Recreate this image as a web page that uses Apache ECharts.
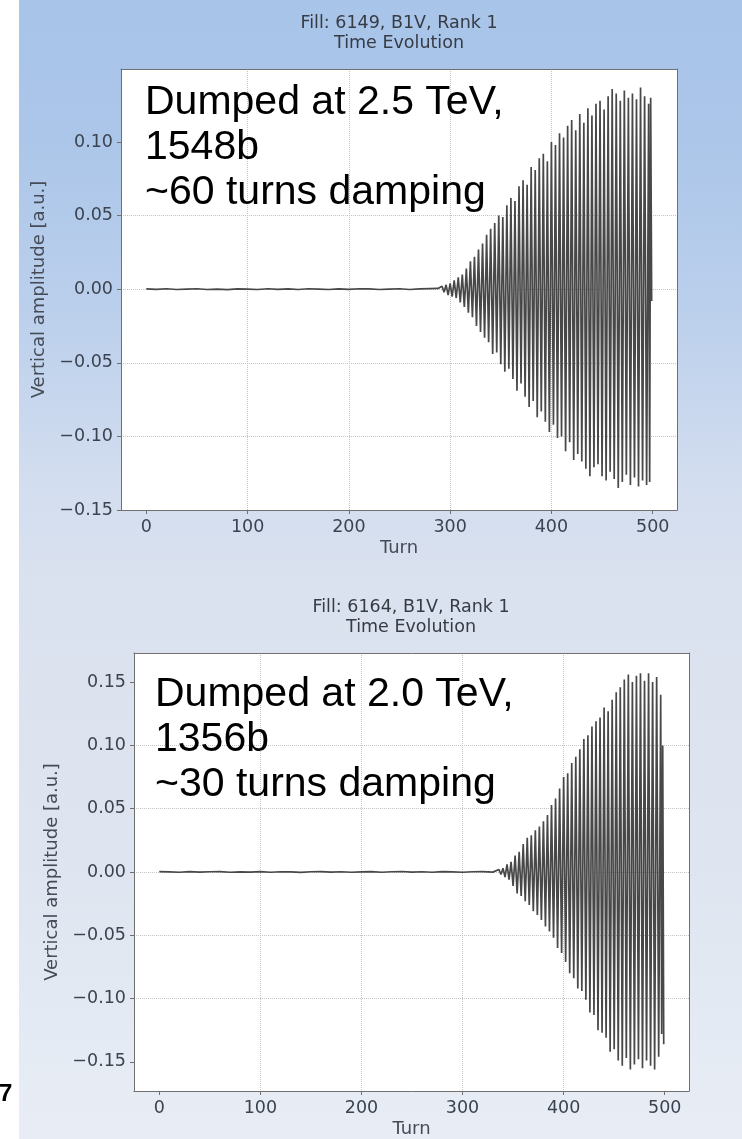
<!DOCTYPE html>
<html><head><meta charset="utf-8">
<script src="https://cdn.jsdelivr.net/npm/echarts@6/dist/echarts.min.js"></script>
<style>html,body{margin:0;padding:0;background:#fff}#c{width:742px;height:1139px}</style>
</head><body><div id="c"></div>
<script>
// ---------- data ----------
const xTicks = [0, 100, 200, 300, 400, 500];
const yTicks1 = [-0.15, -0.10, -0.05, 0, 0.05, 0.10];
const yTicks2 = [-0.15, -0.10, -0.05, 0, 0.05, 0.10, 0.15];

const titles = ['Fill: 6149, B1V, Rank 1\nTime Evolution', 'Fill: 6164, B1V, Rank 1\nTime Evolution'];
const notes = ['Dumped at 2.5 TeV,\n1548b\n~60 turns damping', 'Dumped at 2.0 TeV,\n1356b\n~30 turns damping'];

// Fill 6149: quiet part
const baseTurns1 = [0,10,20,30,40,50,60,70,80,90,100,110,120,130,140,150,160,170,180,190,200,210,220,230,240,250,260,270,280,288];
const baseAmp1 = [0.0002,-0.0001,0.0003,-0.0002,0.0001,0.0003,-0.0002,0.0001,-0.0003,0.0002,0.0001,-0.0002,0.0003,-0.0001,0.0002,-0.0002,0.0003,0.0001,-0.0002,0.0002,-0.0001,0.0003,0.0002,-0.0002,0.0001,0.0003,-0.0002,0.0002,0.0004,0.0005];
// Fill 6149: instability (spike tips)
const burstTurns1 = [292,294,296,298,300,302,304,306,308,310,312,314,316,318,320,322,324,326,328,330,332,334,336,338,340,342,344,346,348,350,352,354,356,358,360,362,364,366,368,370,372,374,376,378,380,382,384,386,388,390,392,394,396,398,400,402,404,406,408,410,412,414,416,418,420,422,424,426,428,430,432,434,436,438,440,442,444,446,448,450,452,454,456,458,460,462,464,466,468,470,472,474,476,478,480,482,484,486,488,490,492,494,496,497,498,499];
const burstAmp1 = [0.002,-0.002,0.003,-0.004,0.004,-0.005,0.006,-0.006,0.008,-0.009,0.010,-0.012,0.014,-0.016,0.019,-0.019,0.022,-0.025,0.027,-0.029,0.031,-0.033,0.037,-0.036,0.041,-0.044,0.045,-0.043,0.050,-0.051,0.049,-0.056,0.057,-0.054,0.062,-0.061,0.060,-0.069,0.070,-0.064,0.074,-0.073,0.071,-0.080,0.083,-0.076,0.081,-0.087,0.089,-0.083,0.092,-0.090,0.087,-0.097,0.100,-0.092,0.098,-0.101,0.106,-0.100,0.103,-0.110,0.111,-0.104,0.115,-0.116,0.108,-0.112,0.119,-0.117,0.113,-0.122,0.123,-0.127,0.118,-0.121,0.126,-0.119,0.128,-0.127,0.122,-0.130,0.131,-0.124,0.136,-0.129,0.133,-0.135,0.128,-0.131,0.135,-0.126,0.130,-0.133,0.133,-0.128,0.129,-0.134,0.137,-0.130,0.131,-0.133,0.126,-0.131,0.130,-0.008];

// Fill 6164: quiet part
const baseTurns2 = [0,10,20,30,40,50,60,70,80,90,100,110,120,130,140,150,160,170,180,190,200,210,220,230,240,250,260,270,280,290,300,310,320,330];
const baseAmp2 = [0.0003,0.0001,-0.0002,0.0003,-0.0001,0.0002,0.0003,-0.0002,0.0001,-0.0001,0.0003,-0.0002,0.0002,0.0001,-0.0003,0.0002,0.0003,-0.0001,0.0002,-0.0002,0.0001,0.0003,-0.0002,0.0002,0.0004,-0.0001,0.0002,-0.0002,0.0003,0.0001,-0.0002,0.0002,0.0003,-0.0001];
// Fill 6164: instability (spike tips)
const burstTurns2 = [336,338,340,342,344,346,348,350,352,354,356,358,360,362,364,366,368,370,372,374,376,378,380,382,384,386,388,390,392,394,396,398,400,402,404,406,408,410,412,414,416,418,420,422,424,426,428,430,432,434,436,438,440,442,444,446,448,450,452,454,456,458,460,462,464,466,468,470,472,474,476,478,480,482,484,486,488,490,492,494,496,497,498,499];
const burstAmp2 = [0.002,-0.002,0.003,-0.004,0.006,-0.006,0.008,-0.011,0.013,-0.017,0.016,-0.019,0.022,-0.023,0.027,-0.026,0.029,-0.031,0.033,-0.034,0.036,-0.038,0.040,-0.043,0.045,-0.047,0.053,-0.052,0.058,-0.060,0.066,-0.064,0.075,-0.071,0.078,-0.080,0.086,-0.084,0.091,-0.092,0.097,-0.094,0.105,-0.101,0.108,-0.111,0.115,-0.113,0.119,-0.125,0.122,-0.127,0.130,-0.131,0.127,-0.142,0.136,-0.140,0.142,-0.149,0.146,-0.153,0.152,-0.147,0.156,-0.156,0.150,-0.152,0.155,-0.148,0.157,-0.155,0.151,-0.149,0.157,-0.153,0.150,-0.156,0.154,-0.146,0.140,-0.128,0.100,-0.136];

// ---------- build ----------
function pairs(t, v) { return t.map((x, i) => [x, v[i]]); }
const data1 = pairs(baseTurns1, baseAmp1).concat(pairs(burstTurns1, burstAmp1));
const data2 = pairs(baseTurns2, baseAmp2).concat(pairs(burstTurns2, burstAmp2));

const tickColor = '#3c4350';
const frameColor = '#707070';
const fmtY = v => (v < 0 ? '\u2212' : '') + Math.abs(v).toFixed(2);

function xAxes(g) {
  return [{
    gridIndex: g, type: 'value', min: -25, max: 524, position: 'bottom',
    name: 'Turn', nameLocation: 'middle', nameGap: 29,
    nameTextStyle: { fontFamily: 'DejaVu Sans', fontSize: 18, color: '#454c58' },
    axisLine: { show: true, onZero: false, lineStyle: { color: frameColor, width: 1 } },
    axisTick: { show: true, customValues: xTicks, length: 4, lineStyle: { color: frameColor } },
    axisLabel: { customValues: xTicks, margin: 8, fontFamily: 'DejaVu Sans', fontSize: 17.5, color: tickColor },
    splitLine: { show: true, showMinLine: false, showMaxLine: false, lineStyle: { type: 'dotted', color: '#c4c4c4', width: 1 } }
  }, {
    gridIndex: g, type: 'value', min: -25, max: 524, position: 'top',
    axisLine: { show: true, onZero: false, lineStyle: { color: frameColor, width: 1 } },
    axisTick: { show: false }, axisLabel: { show: false }, splitLine: { show: false }
  }];
}
function yAxes(g, lo, hi, ticks) {
  return [{
    gridIndex: g, type: 'value', min: lo, max: hi, position: 'left',
    name: 'Vertical amplitude [a.u.]', nameLocation: 'middle', nameGap: 72,
    nameTextStyle: { fontFamily: 'DejaVu Sans', fontSize: 18, color: '#454c58' },
    axisLine: { show: true, onZero: false, lineStyle: { color: frameColor, width: 1 } },
    axisTick: { show: true, customValues: ticks, length: 4, lineStyle: { color: frameColor } },
    axisLabel: { customValues: ticks, margin: 8, formatter: fmtY, fontFamily: 'DejaVu Sans', fontSize: 17.5, color: tickColor },
    splitLine: { show: true, showMinLine: false, showMaxLine: false, lineStyle: { type: 'dotted', color: '#c4c4c4', width: 1 } }
  }, {
    gridIndex: g, type: 'value', min: lo, max: hi, position: 'right',
    axisLine: { show: true, onZero: false, lineStyle: { color: frameColor, width: 1 } },
    axisTick: { show: false }, axisLabel: { show: false }, splitLine: { show: false }
  }];
}

const bg = new echarts.graphic.LinearGradient(0, 0, 0, 1, [
  { offset: 0, color: '#a8c4e9' },
  { offset: 0.12, color: '#abc6e9' },
  { offset: 0.28, color: '#bcd0ec' },
  { offset: 0.42, color: '#d2ddef' },
  { offset: 0.52, color: '#dbe2ef' },
  { offset: 0.75, color: '#dee5f0' },
  { offset: 1, color: '#e8edf5' }
]);

const lineStyle = { color: '#484848', width: 1.7 };

const option = {
  animation: false,
  backgroundColor: bg,
  grid: [
    { left: 121, top: 69, width: 556, height: 441, show: true, backgroundColor: '#ffffff', borderWidth: 0, containLabel: false },
    { left: 134, top: 653, width: 555, height: 440, show: true, backgroundColor: '#ffffff', borderWidth: 0, containLabel: false }
  ],
  xAxis: xAxes(0).concat(xAxes(1)),
  yAxis: yAxes(0, -0.15, 0.1496, yTicks1).concat(yAxes(1, -0.173, 0.173, yTicks2)),
  series: [
    { type: 'line', xAxisIndex: 0, yAxisIndex: 0, data: data1, showSymbol: false, symbol: 'none', lineStyle: lineStyle, silent: true, sampling: null },
    { type: 'line', xAxisIndex: 2, yAxisIndex: 2, data: data2, showSymbol: false, symbol: 'none', lineStyle: lineStyle, silent: true, sampling: null }
  ],
  graphic: [
    { type: 'rect', silent: true, z: -5, shape: { x: 0, y: 0, width: 19, height: 1139 }, style: { fill: '#ffffff' } },
    { type: 'text', silent: true, x: 399, y: 13, style: { text: titles[0], font: '17.5px "DejaVu Sans"', fill: '#363b44', align: 'center', verticalAlign: 'top', lineHeight: 20 } },
    { type: 'text', silent: true, x: 411, y: 597, style: { text: titles[1], font: '17.5px "DejaVu Sans"', fill: '#363b44', align: 'center', verticalAlign: 'top', lineHeight: 20 } },
    { type: 'text', silent: true, z: 10, x: 145, y: 80, style: { text: notes[0], font: '41px "Liberation Sans"', fill: '#000000', align: 'left', verticalAlign: 'top', lineHeight: 45 } },
    { type: 'text', silent: true, z: 10, x: 155, y: 672, style: { text: notes[1], font: '41px "Liberation Sans"', fill: '#000000', align: 'left', verticalAlign: 'top', lineHeight: 45 } },
    { type: 'text', silent: true, z: 10, x: -1, y: 1094, style: { text: '7', font: 'bold 24px "Liberation Sans"', fill: '#000000', align: 'left', verticalAlign: 'middle' } }
  ]
};

const chart = echarts.init(document.getElementById('c'), null, { renderer: 'canvas', width: 742, height: 1139 });
chart.setOption(option);
</script>
</body></html>
